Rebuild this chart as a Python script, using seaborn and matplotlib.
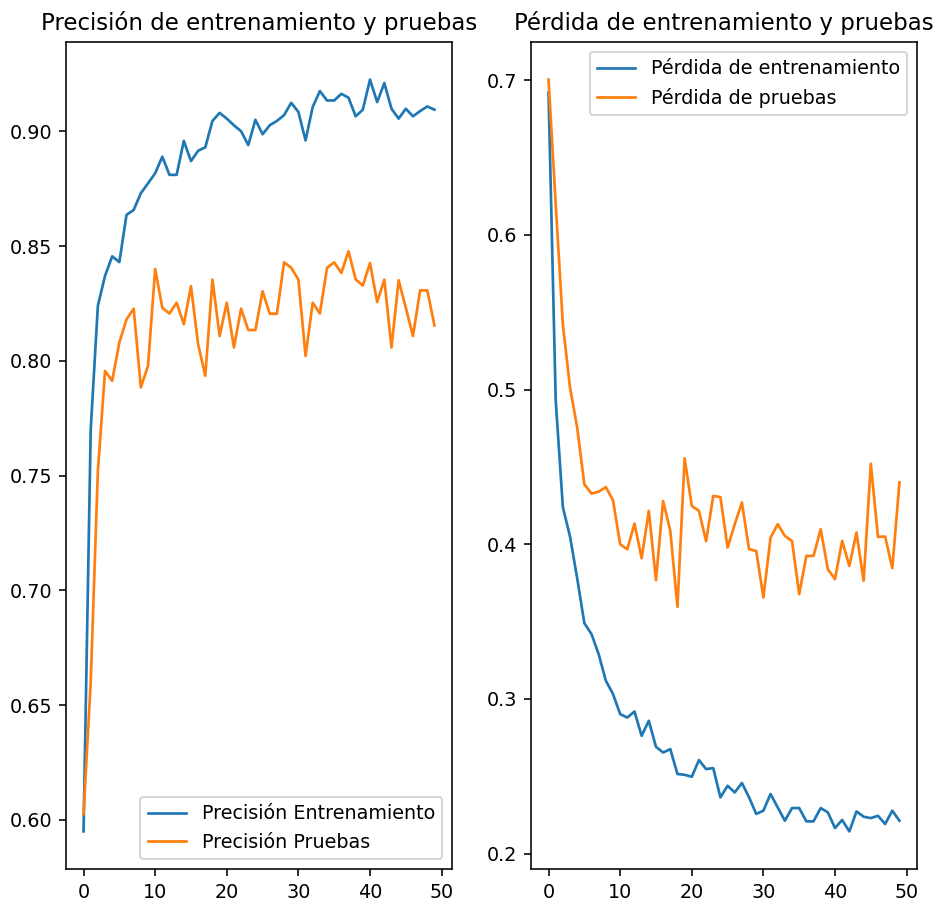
import numpy as np
import pandas as pd
import matplotlib
matplotlib.use("Agg")
import matplotlib.pyplot as plt
import seaborn as sns

# Training history (50 epochs)
epochs = list(range(50))

train_acc = [0.595, 0.770, 0.824, 0.837, 0.8455, 0.843, 0.8636, 0.8657, 0.873, 0.8773,
             0.8817, 0.8889, 0.881, 0.881, 0.8958, 0.887, 0.8915, 0.893, 0.9045, 0.908,
             0.9055, 0.9026, 0.900, 0.894, 0.905, 0.8987, 0.9026, 0.9045, 0.907, 0.9124,
             0.9084, 0.896, 0.9106, 0.9175, 0.9134, 0.9134, 0.9163, 0.9146, 0.9065, 0.9094,
             0.9225, 0.9127, 0.921, 0.9098, 0.9055, 0.9098, 0.9065, 0.9088, 0.9108, 0.9094]

val_acc = [0.6025, 0.66, 0.752, 0.7956, 0.7913, 0.808, 0.818, 0.8227, 0.7884, 0.7978,
           0.84, 0.8231, 0.8206, 0.8253, 0.8159, 0.8325, 0.8072, 0.7935, 0.8354, 0.8108,
           0.8253, 0.8058, 0.8227, 0.8134, 0.8134, 0.8303, 0.8205, 0.8205, 0.8429, 0.8405,
           0.8354, 0.8021, 0.8253, 0.8206, 0.8405, 0.8429, 0.8383, 0.8477, 0.8354, 0.8328,
           0.8426, 0.8256, 0.8354, 0.8058, 0.8351, 0.8231, 0.8108, 0.8307, 0.8307, 0.8154]

train_loss = [0.692, 0.493, 0.424, 0.405, 0.378, 0.349, 0.3419, 0.329, 0.3118, 0.3032,
              0.2902, 0.288, 0.2919, 0.2762, 0.2859, 0.2691, 0.2654, 0.2676, 0.2515, 0.251,
              0.2497, 0.2605, 0.2547, 0.2553, 0.2364, 0.2439, 0.2396, 0.2457, 0.2364, 0.2257,
              0.2278, 0.2386, 0.2299, 0.2213, 0.2295, 0.2295, 0.2209, 0.2209, 0.2295, 0.2267,
              0.2166, 0.2218, 0.2144, 0.2273, 0.2239, 0.223, 0.2245, 0.2192, 0.2278, 0.2213]

val_loss = [0.7004, 0.62, 0.542, 0.5013, 0.4754, 0.4388, 0.4328, 0.434, 0.437, 0.4285,
            0.400, 0.3968, 0.4134, 0.391, 0.4216, 0.3768, 0.428, 0.4087, 0.3596, 0.4556,
            0.4248, 0.4216, 0.402, 0.4313, 0.4305, 0.3979, 0.413, 0.427, 0.3968, 0.3957,
            0.3656, 0.4043, 0.413, 0.4054, 0.4022, 0.3678, 0.3925, 0.3925, 0.4097, 0.3839,
            0.3775, 0.4022, 0.386, 0.4076, 0.3764, 0.4521, 0.4048, 0.405, 0.3846, 0.44]

df = pd.DataFrame({"epoch": epochs, "train_acc": train_acc, "val_acc": val_acc,
                   "train_loss": train_loss, "val_loss": val_loss})

blue = "#1f77b4"
orange = "#ff7f0e"

# slightly smaller text and lines than the 144 dpi defaults
plt.rcParams["font.size"] = 9.55
plt.rcParams["lines.linewidth"] = 1.35

fig = plt.figure(figsize=(936 / 144, 902 / 144), dpi=144)

# Accuracy
ax1 = fig.add_axes([66 / 936, 1 - 869 / 902, (452 - 66) / 936, (869 - 42) / 902])
sns.lineplot(data=df, x="epoch", y="train_acc", color=blue, label="Precisión Entrenamiento", ax=ax1)
sns.lineplot(data=df, x="epoch", y="val_acc", color=orange, label="Precisión Pruebas", ax=ax1)
ax1.legend(loc="lower right")
ax1.set_title("Precisión de entrenamiento y pruebas")
ax1.set_xlabel("")
ax1.set_ylabel("")

# Loss
ax2 = fig.add_axes([531 / 936, 1 - 869 / 902, (917 - 531) / 936, (869 - 42) / 902])
sns.lineplot(data=df, x="epoch", y="train_loss", color=blue, label="Pérdida de entrenamiento", ax=ax2)
sns.lineplot(data=df, x="epoch", y="val_loss", color=orange, label="Pérdida de pruebas", ax=ax2)
ax2.legend(loc="upper right")
ax2.set_title("Pérdida de entrenamiento y pruebas")
ax2.set_xlabel("")
ax2.set_ylabel("")

fig.savefig("out.png", dpi=144)
